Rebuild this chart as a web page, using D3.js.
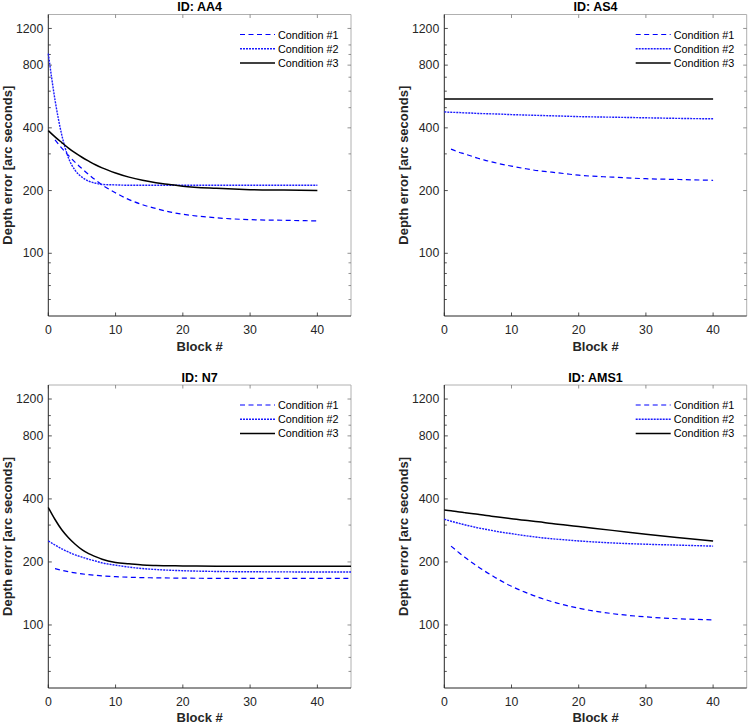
<!DOCTYPE html>
<html><head><meta charset="utf-8">
<script src="https://cdn.jsdelivr.net/npm/d3@7"></script>
<style>
body{margin:0;background:#fff;}
text{font-family:"Liberation Sans",Arial,Helvetica,sans-serif;}
</style></head>
<body><svg id="c" width="749" height="724"></svg>
<script>
// ---- data ----
const panelIds = ["AA4", "AS4", "N7", "AMS1"];
const seriesNames = ["Condition #1", "Condition #2", "Condition #3"];
const blocks = [0,1,2,3,4,5,6,7,8,10,12,14,16,18,20,25,30,35,40];
const blocksN7 = [0,1,2,3,4,5,6,7,8,10,12,14,16,18,20,25,30,35,40,45];

// Condition #1 starts at block 1 (null = no value)
const aa4_c1 = [null,350,320,295,273,255,239,225,213,195,181,171,164,158,154,148,145,144,143];
const aa4_c2 = [908,544,370,287,250,232,222,217,214,213,212,212,212,212,212,212,212,212,212];
const aa4_c3 = [388,362,340,320,303,289,277,266,257,243,232,224,218,214,210,205,202,201,200];

const as4_c1 = [null,316,307,300,293,286,280,275,270,262,255,249,245,241,237,232,228,226,224];
const as4_c2 = [477,475,474,472,471,469,468,467,466,463,461,459,457,455,453,450,447,444,442];
const as4_c3 = [550,550,550,550,550,550,550,550,550,550,550,550,550,550,550,550,550,550,550];

const n7_c1 = [null,186,182.5,179.6,177.3,175.4,173.8,172.6,171.6,170,169,168.3,167.9,167.6,167.4,167,167,167,167,167];
const n7_c2 = [252,241,231,223,216,211,206,202,198,193,189,186,184,182.6,181.6,180.1,179.5,179.3,179,179];
const n7_c3 = [364,319,285,261,243,229,219,212,206,199,196,193.5,192.4,191.7,191.5,191,191,191,191,191];

const ams1_c1 = [null,238,224,211,200,190,181,173,165.5,153,143.5,135.6,129.3,124.3,120.2,113.3,109.3,107,105.8];
const ams1_c2 = [320,313,307,301,296,291,287,283,279,273,267,262,258,255,252,246.5,243,240.5,238];
const ams1_c3 = [354,351,347,344,341,338,334,331,328,322,316,311,305,300,295,283,271,261,252];

const xTicks = [0,10,20,30,40];
const yTicks = [100,200,400,800,1200];
const yMinorTicks = [60,70,80,90,300,500,600,700,900,1000];

// ---- layout ----
const panels = [
  {id: panelIds[0], x: blocks,   s: [aa4_c1, aa4_c2, aa4_c3],   l: 48.3,  r: 351,   t: 14.5, b: 316, xl: 35},
  {id: panelIds[1], x: blocks,   s: [as4_c1, as4_c2, as4_c3],   l: 444.3, r: 746.7, t: 14.5, b: 316, xl: 35},
  {id: panelIds[2], x: blocksN7, s: [n7_c1, n7_c2, n7_c3],      l: 48.3,  r: 351,   t: 385,  b: 688, xl: 33.5},
  {id: panelIds[3], x: blocks,   s: [ams1_c1, ams1_c2, ams1_c3], l: 444.3, r: 746.7, t: 385,  b: 688, xl: 33.5}
];
const styles = [
  {stroke: "#0000ff", width: 1.2, dash: "5,3.5"},
  {stroke: "#1a1aff", width: 1.4, dash: "2,1"},
  {stroke: "#000000", width: 1.5, dash: null}
];

const svg = d3.select("#c");
const axisDark = "#262626", axisLight = "#b0b0b0";

panels.forEach(p => {
  const g = svg.append("g");
  const x = d3.scaleLinear().domain([0,45]).range([p.l, p.r]);
  const y = d3.scaleLog().domain([50,1400]).range([p.b, p.t]);

  // box: top & right light
  g.append("line").attr("x1",p.l).attr("x2",p.r).attr("y1",p.t).attr("y2",p.t).attr("stroke",axisLight).attr("stroke-width",1);
  g.append("line").attr("x1",p.r).attr("x2",p.r).attr("y1",p.t).attr("y2",p.b).attr("stroke",axisLight).attr("stroke-width",1);

  // inward ticks left/right
  const tk = g.append("g").attr("stroke", axisDark).attr("stroke-width", 0.8);
  yTicks.concat(yMinorTicks).forEach(v => {
    const len = yTicks.includes(v) ? 3.5 : 2.5;
    tk.append("line").attr("x1",p.l).attr("x2",p.l+len).attr("y1",y(v)).attr("y2",y(v));
    tk.append("line").attr("x1",p.r).attr("x2",p.r-len).attr("y1",y(v)).attr("y2",y(v)).attr("stroke","#777");
  });
  xTicks.forEach(v => {
    tk.append("line").attr("x1",x(v)).attr("x2",x(v)).attr("y1",p.b).attr("y2",p.b-3.5);
    tk.append("line").attr("x1",x(v)).attr("x2",x(v)).attr("y1",p.t).attr("y2",p.t+3.5).attr("stroke","#777");
  });

  // left/bottom axis lines
  g.append("line").attr("x1",p.l).attr("x2",p.l).attr("y1",p.t).attr("y2",p.b).attr("stroke",axisDark).attr("stroke-width",1);
  g.append("line").attr("x1",p.l).attr("x2",p.r).attr("y1",p.b).attr("y2",p.b).attr("stroke",axisDark).attr("stroke-width",1);

  // tick labels
  yTicks.forEach(v => {
    g.append("text").attr("x", p.l-5).attr("y", y(v)+4.2).attr("text-anchor","end")
      .attr("font-size",12.3).attr("fill","#262626").text(v);
  });
  xTicks.forEach(v => {
    g.append("text").attr("x", x(v)).attr("y", p.b+18).attr("text-anchor","middle")
      .attr("font-size",12.3).attr("fill","#262626").text(v);
  });

  // labels
  g.append("text").attr("x",(p.l+p.r)/2).attr("y",p.t-3.5).attr("text-anchor","middle")
    .attr("font-size",12.5).attr("font-weight","bold").attr("fill","#000").text("ID: " + p.id);
  g.append("text").attr("x",(p.l+p.r)/2).attr("y",p.b+p.xl).attr("text-anchor","middle")
    .attr("font-size",13).attr("font-weight","bold").attr("fill","#262626").text("Block #");
  g.append("text").attr("transform",`translate(${p.l-36},${(p.t+p.b)/2}) rotate(-90)`)
    .attr("text-anchor","middle").attr("font-size",13).attr("font-weight","bold").attr("fill","#262626")
    .text("Depth error [arc seconds]");

  // lines
  const line = d3.line().defined(d => d[1] != null).x(d => x(d[0])).y(d => y(d[1])).curve(d3.curveMonotoneX);
  p.s.forEach((vals, i) => {
    const data = p.x.map((b, k) => [b, vals[k]]);
    const st = styles[i];
    g.append("path").datum(data).attr("d", line).attr("fill","none")
      .attr("stroke", st.stroke).attr("stroke-width", st.width)
      .attr("stroke-dasharray", st.dash);
  });

  // legend
  const lg = g.append("g");
  seriesNames.forEach((n, i) => {
    const yy = p.t + 20 + i*14.2;
    const st = styles[i];
    lg.append("line").attr("x1", p.r-111).attr("x2", p.r-76).attr("y1", yy).attr("y2", yy)
      .attr("stroke", st.stroke).attr("stroke-width", st.width).attr("stroke-dasharray", st.dash);
    lg.append("text").attr("x", p.r-73).attr("y", yy+4).attr("font-size",10.8).attr("fill","#000").text(n);
  });
});
</script></body></html>
